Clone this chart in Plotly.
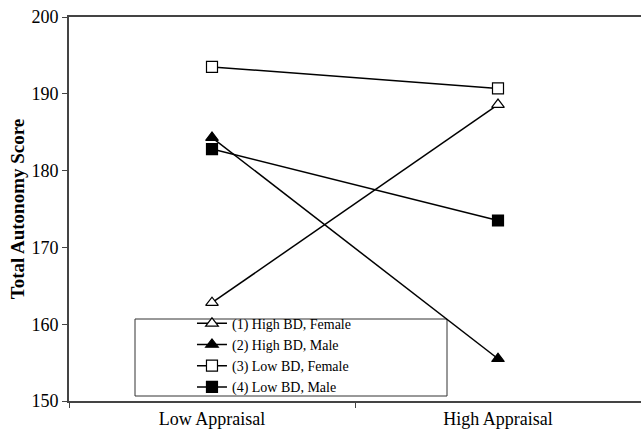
import plotly.graph_objects as go

categories = ["Low Appraisal", "High Appraisal"]
series_names = ["(1) High BD, Female", "(2) High BD, Male", "(3) Low BD, Female", "(4) Low BD, Male"]
high_bd_female = [162.8, 188.6]
high_bd_male = [184.3, 155.5]
low_bd_female = [193.5, 190.7]
low_bd_male = [182.8, 173.5]
y_ticks = [150, 160, 170, 180, 190, 200]

series_values = [high_bd_female, high_bd_male, low_bd_female, low_bd_male]
symbols = ["triangle-up", "triangle-up", "square", "square"]
fills = ["white", "black", "white", "black"]

fig = go.Figure()
for name, vals, sym, fc in zip(series_names, series_values, symbols, fills):
    fig.add_trace(go.Scatter(
        x=categories, y=vals, name=name, mode="lines+markers",
        line=dict(color="black", width=1.5),
        marker=dict(symbol=sym, size=11, color=fc, line=dict(color="black", width=1.2)),
    ))

font_family = "Liberation Serif"
fig.update_layout(
    width=641, height=438,
    margin=dict(l=69, r=0, t=17, b=37, autoexpand=False),
    paper_bgcolor="white", plot_bgcolor="white",
    font=dict(family=font_family, size=18, color="black"),
    showlegend=True,
    legend=dict(
        x=0.215, y=0.243, xanchor="left", yanchor="top",
        bgcolor="rgba(0,0,0,0)", borderwidth=0,
        font=dict(family=font_family, size=14, color="black"),
        tracegroupgap=0, itemwidth=30,
    ),
    xaxis=dict(
        type="category", range=[-0.5, 1.5],
        showline=True, linecolor="#444", linewidth=2, mirror=True,
        ticks="outside", tickson="boundaries", ticklen=5, tickcolor="#444",
        showgrid=False, zeroline=False, automargin=False,
        tickfont=dict(family=font_family, size=18),
    ),
    yaxis=dict(
        range=[150, 200], tickvals=y_ticks,
        showline=True, linecolor="#444", linewidth=2,
        ticks="outside", ticklen=5, tickcolor="#444",
        showgrid=False, zeroline=False, automargin=False,
        tickfont=dict(family=font_family, size=18),
        title=dict(text="<b>Total Autonomy Score</b>", font=dict(family=font_family, size=19), standoff=2),
    ),
    shapes=[dict(type="rect", xref="paper", yref="paper",
                 x0=(135 - 69) / 572, x1=(447 - 69) / 572,
                 y0=(401 - 396) / 384, y1=(401 - 319) / 384,
                 line=dict(color="#333", width=1), fillcolor="rgba(0,0,0,0)", layer="below")],
)

fig.write_html("out.html", config={"displayModeBar": False},
               post_script="document.body.style.margin='0';document.body.style.overflow='hidden';")
